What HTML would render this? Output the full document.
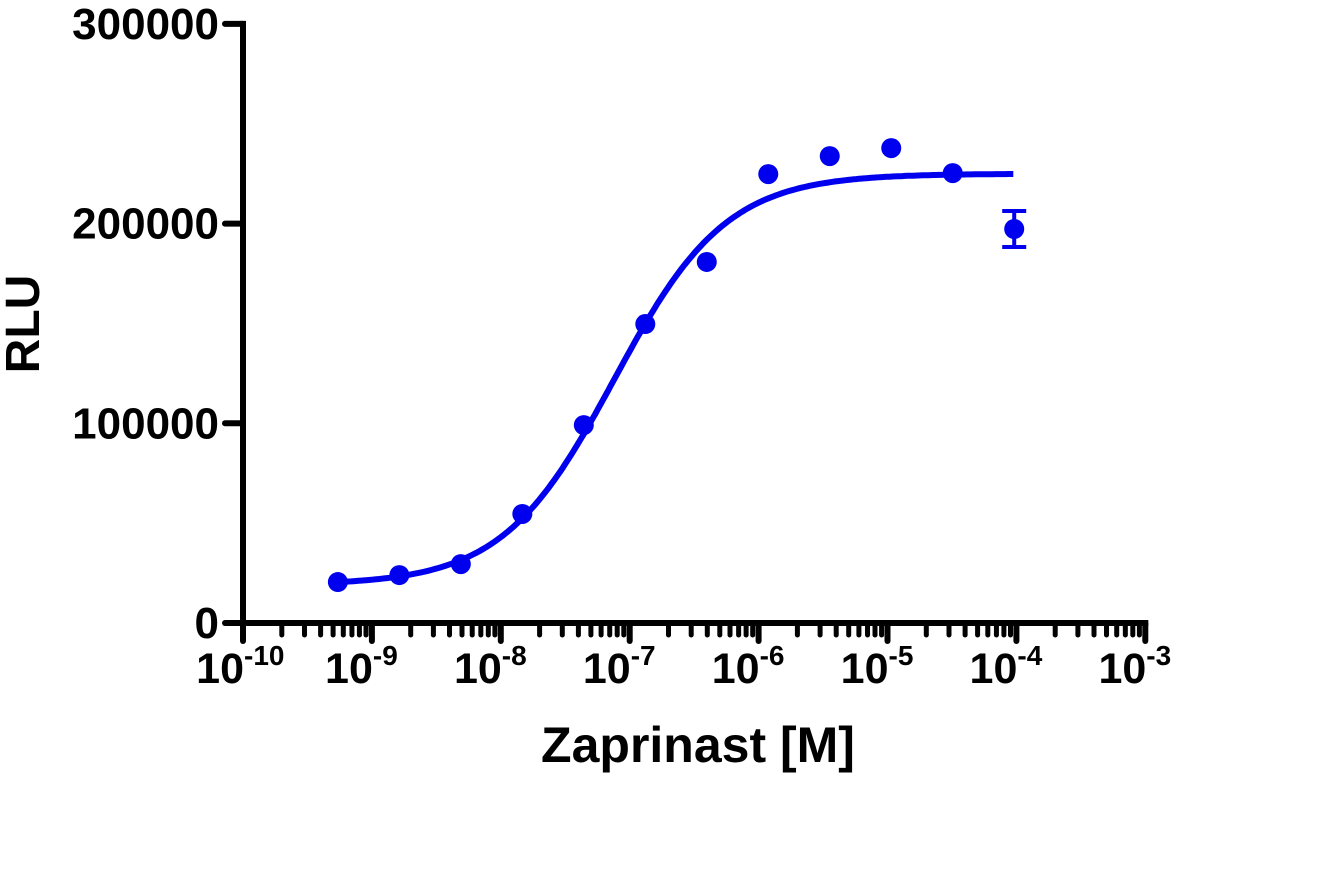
<!DOCTYPE html>
<html><head><meta charset="utf-8"><style>
body{margin:0;background:#fff;}
svg text{font-family:"Liberation Sans",Arial,sans-serif;font-weight:bold;fill:#000;}
</style></head><body>
<svg id="chart" width="1323" height="873" viewBox="0 0 1323 873" xmlns="http://www.w3.org/2000/svg"></svg>
<script>
const logDoses=[-9.264,-8.787,-8.310,-7.833,-7.356,-6.879,-6.402,-5.925,-5.448,-4.971,-4.494,-4.017];
const rluValues=[20500,24000,29500,54600,99100,149700,180800,224800,233800,237800,225300,197300];
const rluErrors=[0,0,0,0,0,0,0,0,0,0,0,9000];
const yTicks=[0,100000,200000,300000];
const xDecades=[-10,-9,-8,-7,-6,-5,-4,-3];
const fitParams=[19000,225000,-7.12,1.0]; // bottom, top, logEC50, hill

const NS="http://www.w3.org/2000/svg";
const svg=document.getElementById('chart');
const X=l=>243+(l+10)*128.9;
const Y=v=>623-v*0.001997;
function mk(tag,attrs,parent){const e=document.createElementNS(NS,tag);for(const k in attrs)e.setAttribute(k,attrs[k]);(parent||svg).appendChild(e);return e;}

const axes=mk('g',{});


let yl=mk('line',{x1:X(-10),y1:Y(0)+3,x2:X(-10),y2:Y(300000)-3,stroke:'#000','stroke-width':6},axes);


let xl=mk('line',{x1:X(-10)-3,y1:623,x2:X(-3)+3,y2:623,stroke:'#000','stroke-width':6},axes);


yTicks.forEach(v=>{
  let t=mk('line',{x1:225,y1:Y(v),x2:X(-10),y2:Y(v),stroke:'#000','stroke-width':6,'stroke-linecap':'round'},axes);
  
  
  let tx=mk('text',{x:219,y:Y(v)+15,'text-anchor':'end','font-size':44},axes);
  tx.textContent=String(v);
  
  
});
xDecades.forEach((d,i)=>{
  let t=mk('line',{x1:X(d),y1:623,x2:X(d),y2:641,stroke:'#000','stroke-width':6,'stroke-linecap':'round'},axes);
  
  
  if(i<xDecades.length-1){for(let m=2;m<=9;m++){
    let mt=mk('line',{x1:X(d+Math.log10(m)),y1:623,x2:X(d+Math.log10(m)),y2:635,stroke:'#000','stroke-width':5,'stroke-linecap':'round'},axes);
    
    
  }}
  let tx=mk('text',{x:X(d)+1,y:683,'text-anchor':'end','font-size':43},axes);
  tx.textContent='10';
  
  
  let sp=mk('text',{x:X(d)+1,y:665,'text-anchor':'start','font-size':28},axes);
  sp.textContent=String(d);
  
  
});
let yt=mk('text',{x:0,y:0,'text-anchor':'middle','font-size':48,transform:'translate(39,324) rotate(-90)'});
yt.textContent='RLU';


let xt=mk('text',{x:698,y:762,'text-anchor':'middle','font-size':50});
xt.textContent='Zaprinast [M]';



// fit curve
const fitBottom=fitParams[0],fitTop=fitParams[1],fitEC50=fitParams[2],fitHill=fitParams[3];
let pts=[];
for(let l=logDoses[0];l<=logDoses[logDoses.length-1]+0.001;l+=0.02){
  const v=fitBottom+(fitTop-fitBottom)/(1+Math.pow(10,(fitEC50-l)*fitHill));
  pts.push(X(l).toFixed(1)+','+Y(v).toFixed(1));
}
let curve=mk('polyline',{points:pts.join(' '),fill:'none',stroke:'#0000ee','stroke-width':6,'stroke-linejoin':'round'});



logDoses.forEach((l,i)=>{
  const cx=X(l),cy=Y(rluValues[i]);
  if(rluErrors[i]>0){
    const e=rluErrors[i];
    const g=mk('g',{stroke:'#0000ee','stroke-width':4});
    
    
    mk('line',{x1:cx,y1:Y(rluValues[i]+e),x2:cx,y2:Y(rluValues[i]-e)},g);
    mk('line',{x1:cx-12,y1:Y(rluValues[i]+e),x2:cx+12,y2:Y(rluValues[i]+e)},g);
    mk('line',{x1:cx-12,y1:Y(rluValues[i]-e),x2:cx+12,y2:Y(rluValues[i]-e)},g);
  }
  let c=mk('circle',{cx:cx,cy:cy,r:10,fill:'#0000ee'});
  
  
});
</script>
</body></html>
